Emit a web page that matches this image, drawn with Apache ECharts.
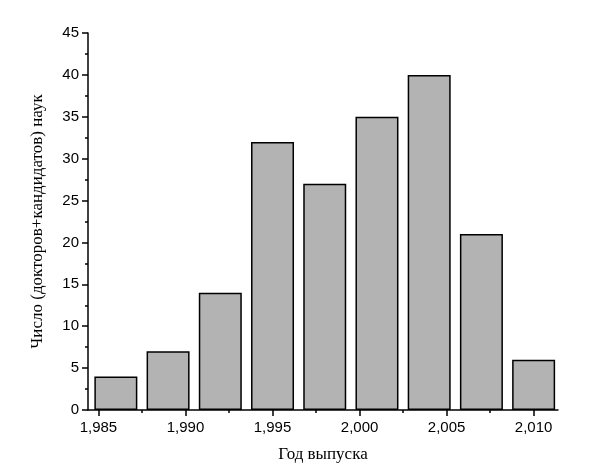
<!DOCTYPE html>
<html>
<head>
<meta charset="utf-8">
<script src="https://cdn.jsdelivr.net/npm/echarts@6/dist/echarts.min.js"></script>
<style>html,body{margin:0;padding:0;background:#fff}#main{width:600px;height:473px}</style>
</head>
<body>
<div id="main"></div>
<script>
// данные гистограммы
const years = [1986, 1989, 1992, 1995, 1998, 2001, 2004, 2007, 2010];
const counts = [4, 7, 14, 32, 27, 35, 40, 21, 6];
const xLabels = [1985, 1990, 1995, 2000, 2005, 2010];
const xMinor = [1987.5, 1992.5, 1997.5, 2002.5, 2007.5];

const chart = echarts.init(document.getElementById('main'));
const tickFont = { fontFamily: 'Liberation Sans', fontSize: 15, color: '#000' };
const titleFont = { fontFamily: 'Liberation Serif', fontSize: 17, color: '#000' };

var option = {
  animation: false,
  grid: { left: 88, right: 42, top: 33, bottom: 63 },
  xAxis: [
    {
      type: 'value', min: 1984.4, max: 2011.4,
      name: 'Год выпуска', nameLocation: 'middle', nameGap: 36, nameTextStyle: titleFont,
      axisLine: { lineStyle: { color: '#000', width: 1.5 } },
      axisTick: { customValues: xLabels, length: 6, lineStyle: { color: '#000', width: 1.5 } },
      axisLabel: Object.assign({ customValues: xLabels, margin: 10 }, tickFont),
      splitLine: { show: false }
    },
    {
      type: 'value', min: 1984.4, max: 2011.4, position: 'bottom',
      axisLine: { show: false },
      axisTick: { customValues: xMinor, length: 3, lineStyle: { color: '#000', width: 1.5 } },
      axisLabel: { show: false },
      splitLine: { show: false }
    }
  ],
  yAxis: {
    type: 'value', min: 0, max: 45, interval: 5,
    name: 'Число (докторов+кандидатов) наук', nameLocation: 'middle', nameGap: 42, nameTextStyle: titleFont,
    axisLine: { show: true, lineStyle: { color: '#000', width: 1.5 } },
    axisTick: { show: true, length: 6, lineStyle: { color: '#000', width: 1.5 } },
    minorTick: { show: true, splitNumber: 2, length: 3, lineStyle: { color: '#000', width: 1.5 } },
    axisLabel: Object.assign({ margin: 9 }, tickFont),
    splitLine: { show: false }
  },
  series: [{
    type: 'bar',
    barWidth: 43,
    data: years.map((y, i) => [y, counts[i]]),
    itemStyle: { color: '#b3b3b3', borderColor: '#000', borderWidth: 1.5 }
  }]
};
chart.setOption(option);
</script>
</body>
</html>
